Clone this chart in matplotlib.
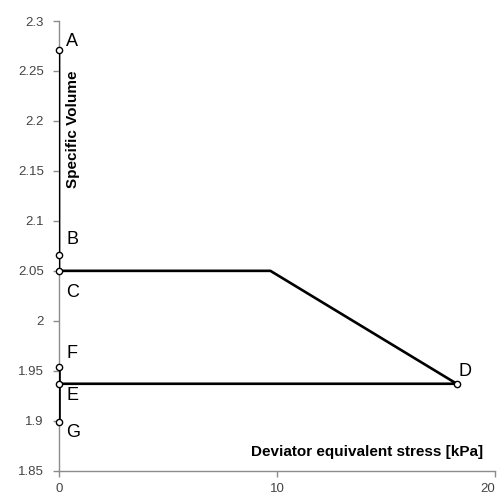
import matplotlib
matplotlib.use("Agg")
import matplotlib.pyplot as plt

# path of the test: A -> B -> C -> knee -> D -> E
path_x = [0.0, 0.0, 0.0, 9.7, 18.25, 0.0]
path_v = [2.271, 2.066, 2.05, 2.05, 1.937, 1.937]
# unloading branch F -> E -> G
branch_x = [0.0, 0.0, 0.0]
branch_v = [1.954, 1.937, 1.899]

point_names = ["A", "B", "C", "D", "E", "F", "G"]
point_x = [0.0, 0.0, 0.0, 18.25, 0.0, 0.0, 0.0]
point_v = [2.271, 2.066, 2.05, 1.937, 1.937, 1.954, 1.899]
label_offsets = [(7, 8), (7, 15), (7, -22), (2, 12), (7, -12), (7, 13), (7, -11)]

y_ticks = [1.85, 1.9, 1.95, 2.0, 2.05, 2.1, 2.15, 2.2, 2.25, 2.3]
y_tick_labels = ["1.85", "1.9", "1.95", "2", "2.05", "2.1", "2.15", "2.2", "2.25", "2.3"]
x_ticks = [0, 10, 20]

plt.rcParams["font.family"] = ["Liberation Sans", "DejaVu Sans"]

fig = plt.figure(figsize=(5.01, 4.98), dpi=100)
ax = fig.add_axes([0.1178, 0.0548, 0.870, 0.903])

ax.plot(path_x, path_v, color="black", lw=1.9, solid_joinstyle="round", zorder=3)
ax.plot(branch_x, branch_v, color="black", lw=1.9, zorder=3)
ax.plot(point_x, point_v, linestyle="none", marker="o", markersize=4.5,
        markerfacecolor="white", markeredgecolor="black", markeredgewidth=1.0,
        zorder=4, clip_on=False)

for name, px, pv, off in zip(point_names, point_x, point_v, label_offsets):
    ax.annotate(name, (px, pv), xytext=off, textcoords="offset pixels",
                ha="left", va="center", fontsize=13, color="black")

ax.set_xlim(0, 20)
ax.set_ylim(1.85, 2.3)
ax.set_yticks(y_ticks)
ax.set_yticklabels(y_tick_labels)
ax.set_xticks(x_ticks)

for side in ("top", "right"):
    ax.spines[side].set_visible(False)
for side in ("left", "bottom"):
    ax.spines[side].set_color("#8c8c8c")
    ax.spines[side].set_linewidth(1.0)
ax.tick_params(axis="both", direction="out", length=4, width=1.0,
               color="#8c8c8c", labelcolor="#444444", labelsize=9.5)
ax.tick_params(axis="y", pad=7)
ax.tick_params(axis="x", pad=5)
# keep the last x label inside the canvas
ax.get_xticklabels()[-1].set_horizontalalignment("right")

ax.text(0.031, 0.76, "Specific Volume", transform=ax.transAxes, rotation=90,
        ha="center", va="center", fontsize=11, fontweight="bold")
ax.text(0.7075, 0.042, "Deviator equivalent stress [kPa]", transform=ax.transAxes,
        ha="center", va="center", fontsize=11, fontweight="bold")

fig.savefig("out.png", dpi=100)
